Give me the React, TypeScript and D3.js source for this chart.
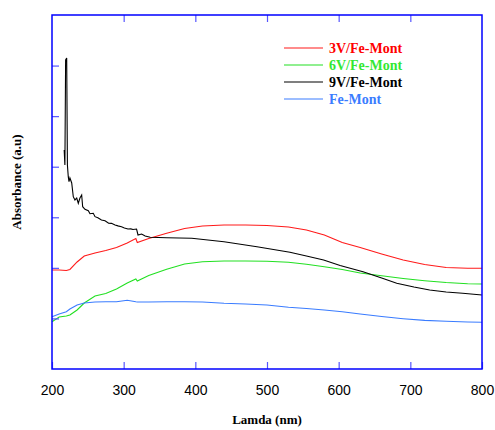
import React, { useEffect, useRef } from 'react';
import * as d3 from 'd3';

// wavelengths (nm) shared by the 3V, 6V and Fe-Mont spectra
const lamda = [200, 210, 220, 225, 235, 245, 260, 275, 290, 305, 317, 319, 335, 360, 385, 410, 440, 470, 500, 530, 555, 580, 605, 630, 660, 690, 720, 750, 780, 800];

const v3 = [1.958, 1.958, 1.948, 1.968, 2.116, 2.234, 2.294, 2.343, 2.403, 2.492, 2.581, 2.501, 2.581, 2.683, 2.778, 2.828, 2.847, 2.847, 2.838, 2.808, 2.749, 2.65, 2.501, 2.403, 2.274, 2.155, 2.066, 2.007, 1.991, 1.991];
const v6 = [0.935, 1.028, 1.048, 1.068, 1.167, 1.305, 1.444, 1.493, 1.582, 1.701, 1.78, 1.74, 1.849, 1.971, 2.076, 2.122, 2.136, 2.136, 2.13, 2.112, 2.07, 2.023, 1.968, 1.898, 1.843, 1.79, 1.746, 1.71, 1.687, 1.681];
const feMont = [1.034, 1.088, 1.133, 1.186, 1.266, 1.305, 1.325, 1.329, 1.331, 1.36, 1.329, 1.325, 1.325, 1.329, 1.331, 1.325, 1.299, 1.285, 1.266, 1.222, 1.196, 1.167, 1.133, 1.088, 1.038, 0.995, 0.961, 0.943, 0.929, 0.923];

// the 9V spectrum has its own wavelength points (spike near 220 nm)
const lamda9 = [217, 218, 219, 220.5, 221.5, 222.7, 223.7, 225, 227.5, 229.7, 232, 234.5, 236.7, 239, 241.4, 242.8, 246, 250.7, 253, 257.6, 260, 264, 269, 274, 279, 283, 288, 292, 297, 301, 306, 310, 313, 318, 320, 325, 330, 337, 360, 395, 440, 486, 532, 555, 579, 602, 634, 660, 681, 705, 727, 750, 773, 800];
const v9 = [4.331, 4.034, 6.11, 6.15, 4.034, 3.803, 3.704, 3.777, 3.678, 3.407, 3.342, 3.381, 3.277, 3.381, 3.441, 3.209, 3.158, 3.13, 3.07, 3.079, 3.012, 2.99, 2.946, 2.93, 2.881, 2.88, 2.847, 2.83, 2.814, 2.79, 2.768, 2.77, 2.758, 2.768, 2.65, 2.669, 2.63, 2.604, 2.596, 2.585, 2.517, 2.418, 2.308, 2.234, 2.155, 2.047, 1.924, 1.799, 1.695, 1.621, 1.562, 1.523, 1.497, 1.463];

const xTicks = [200, 300, 400, 500, 600, 700, 800];
const yTicks = [1, 2, 3, 4, 5, 6];

const series = [
  { name: '3V/Fe-Mont', x: lamda, y: v3, color: '#ff1a1a', text: '#ff0000' },
  { name: '6V/Fe-Mont', x: lamda, y: v6, color: '#22e022', text: '#33e833' },
  { name: '9V/Fe-Mont', x: lamda9, y: v9, color: '#000000', text: '#000000' },
  { name: 'Fe-Mont', x: lamda, y: feMont, color: '#3a7cff', text: '#3a7cff' },
];

const App = () => {
  const svgRef = useRef<SVGSVGElement>(null);

  useEffect(() => {
    const svg = d3.select(svgRef.current);
    svg.selectAll('*').remove();

    const margin = { top: 15, right: 13, bottom: 61, left: 52 };
    const width = 495;
    const height = 430;

    const x = d3.scaleLinear().domain([200, 800]).range([margin.left, width - margin.right]);
    const y = d3.scaleLinear().domain([0, 7]).range([height - margin.bottom, margin.top]);

    // lines
    const line = d3.line<[number, number]>()
      .x(d => x(d[0]))
      .y(d => y(d[1]));

    series.forEach(s => {
      const pts = s.x.map((v, i) => [v, s.y[i]] as [number, number]);
      svg.append('path')
        .attr('d', line(pts))
        .attr('fill', 'none')
        .attr('stroke', s.color)
        .attr('stroke-width', 1.1);
    });

    // axes: ticks point inwards
    const bottom = svg.append('g')
      .attr('transform', `translate(0,${y(0)})`)
      .call(d3.axisBottom(x).tickValues(xTicks).tickSize(-7).tickPadding(16).tickSizeOuter(0));
    bottom.selectAll('text')
      .style('font-family', '"Liberation Sans", Arial, sans-serif')
      .style('font-size', '14px')
      .attr('fill', '#000');

    svg.append('g')
      .attr('transform', `translate(0,${y(7)})`)
      .call(d3.axisTop(x).tickValues(xTicks.slice(1, -1)).tickSize(-7).tickFormat(() => '').tickSizeOuter(0));

    svg.append('g')
      .attr('transform', `translate(${x(200)},0)`)
      .call(d3.axisLeft(y).tickValues(yTicks).tickSize(-7).tickFormat(() => '').tickSizeOuter(0));

    svg.selectAll('.domain').remove();
    svg.selectAll('.tick line').attr('stroke', '#5555ff').attr('stroke-width', 1.2);

    // frame
    svg.append('rect')
      .attr('x', x(200))
      .attr('y', y(7))
      .attr('width', x(800) - x(200))
      .attr('height', y(0) - y(7))
      .attr('fill', 'none')
      .attr('stroke', '#0000ff')
      .attr('stroke-width', 1.5);

    // axis titles
    svg.append('text')
      .attr('x', 267)
      .attr('y', 424)
      .attr('text-anchor', 'middle')
      .style('font-family', '"Liberation Serif", "Times New Roman", serif')
      .style('font-weight', 'bold')
      .style('font-size', '13px')
      .text('Lamda (nm)');

    svg.append('text')
      .attr('transform', 'translate(21,182) rotate(-90)')
      .attr('text-anchor', 'middle')
      .style('font-family', '"Liberation Serif", "Times New Roman", serif')
      .style('font-weight', 'bold')
      .style('font-size', '13px')
      .text('Absorbance (a.u)');

    // legend
    const legend = svg.append('g').attr('transform', 'translate(284,48)');
    series.forEach((s, i) => {
      legend.append('line')
        .attr('x1', 0).attr('x2', 39)
        .attr('y1', i * 17).attr('y2', i * 17)
        .attr('stroke', s.color)
        .attr('stroke-width', 1.1);
      legend.append('text')
        .attr('x', 45)
        .attr('y', i * 17 + 5)
        .attr('fill', s.text)
        .style('font-family', '"Liberation Serif", "Times New Roman", serif')
        .style('font-weight', 'bold')
        .style('font-size', '14px')
        .text(s.name);
    });
  }, []);

  return (
    <svg
      ref={svgRef}
      width={495}
      height={430}
      style={{ position: 'absolute', left: 0, top: 0, background: '#fff' }}
    ></svg>
  );
};

export default App;
